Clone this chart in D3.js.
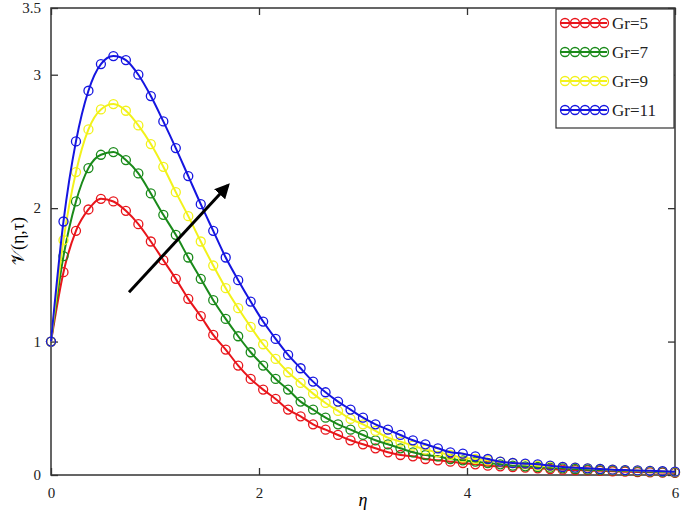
<!DOCTYPE html>
<html><head><meta charset="utf-8">
<script src="https://cdn.jsdelivr.net/npm/d3@7"></script>
<style>body{margin:0;background:#fff}svg text{font-family:"Liberation Serif","DejaVu Serif",serif}</style>
</head><body><svg id="c" width="685" height="520"></svg>
<script>
const seriesNames=["Gr=5","Gr=7","Gr=9","Gr=11"];
const seriesColors=["#e8151b","#1a8a1a","#f2f21a","#1515e0"];
const gr5=[1.0,1.52,1.83,1.99,2.07,2.05,1.98,1.88,1.75,1.61,1.47,1.32,1.19,1.05,0.94,0.82,0.72,0.64,0.57,0.49,0.44,0.38,0.34,0.30,0.26,0.23,0.20,0.17,0.15,0.14,0.12,0.11,0.10,0.09,0.08,0.07,0.065,0.06,0.055,0.05,0.045,0.04,0.037,0.034,0.031,0.028,0.025,0.022,0.02,0.018,0.016];
const gr7=[1.0,1.64,2.05,2.30,2.40,2.42,2.36,2.26,2.11,1.95,1.80,1.63,1.47,1.31,1.17,1.04,0.92,0.82,0.72,0.64,0.55,0.49,0.43,0.38,0.34,0.30,0.26,0.23,0.20,0.17,0.15,0.14,0.12,0.11,0.10,0.09,0.08,0.07,0.065,0.06,0.055,0.05,0.045,0.04,0.037,0.034,0.031,0.028,0.025,0.022,0.02];
const gr9=[1.0,1.76,2.27,2.59,2.74,2.78,2.73,2.62,2.48,2.31,2.12,1.94,1.75,1.57,1.40,1.25,1.11,0.98,0.87,0.77,0.69,0.61,0.54,0.48,0.42,0.38,0.33,0.28,0.25,0.22,0.19,0.17,0.15,0.13,0.12,0.11,0.10,0.09,0.08,0.07,0.065,0.06,0.055,0.05,0.045,0.04,0.036,0.033,0.03,0.027,0.024];
const gr11=[1.0,1.90,2.50,2.88,3.08,3.14,3.11,3.00,2.84,2.65,2.45,2.24,2.03,1.83,1.63,1.46,1.30,1.15,1.02,0.90,0.80,0.70,0.62,0.55,0.49,0.43,0.38,0.34,0.30,0.26,0.23,0.20,0.17,0.16,0.14,0.12,0.10,0.09,0.085,0.08,0.07,0.06,0.055,0.05,0.045,0.04,0.037,0.034,0.031,0.028,0.025];
const etaStep=0.12;
const xTicks=[0,2,4,6];
const yTicks=[0,1,2,3,3.5];
const allSeries=[gr5,gr7,gr9,gr11];

const svg=d3.select("#c");
const x=d3.scaleLinear().domain([0,6]).range([51,675]);
const y=d3.scaleLinear().domain([0,3.5]).range([475,8]);
const g=svg.append("g");
// frame
g.append("rect").attr("x",51).attr("y",8).attr("width",624).attr("height",467).attr("fill","none").attr("stroke","#333").attr("stroke-width",1.5);
const fmt=d=>String(d);
g.append("g").attr("transform","translate(0,475)").call(d3.axisBottom(x).tickValues(xTicks).tickSize(-7).tickPadding(12).tickFormat(fmt));
g.append("g").attr("transform","translate(0,8)").call(d3.axisTop(x).tickValues(xTicks).tickSize(-7).tickFormat(""));
g.append("g").attr("transform","translate(51,0)").call(d3.axisLeft(y).tickValues(yTicks).tickSize(-7).tickPadding(10).tickFormat(fmt));
g.append("g").attr("transform","translate(675,0)").call(d3.axisRight(y).tickValues(yTicks).tickSize(-7).tickFormat(""));
g.selectAll(".domain").remove();
g.selectAll(".tick line").attr("stroke","#333").attr("stroke-width",1.3);
g.selectAll(".tick text").attr("font-size",15).attr("fill","#222").style("font-family","Liberation Serif, serif");

const line=d3.line().x((d,i)=>x(i*etaStep)).y(d=>y(d)).curve(d3.curveMonotoneX);
allSeries.forEach((s,k)=>{
  svg.append("path").datum(s).attr("d",line).attr("fill","none").attr("stroke",seriesColors[k]).attr("stroke-width",2);
  svg.append("g").selectAll("circle").data(s).join("circle").attr("cx",(d,i)=>x(i*etaStep)).attr("cy",d=>y(d)).attr("r",4.5).attr("fill","none").attr("stroke",seriesColors[k]).attr("stroke-width",1.3);
});
// arrow
svg.append("defs").append("marker").attr("id","ah").attr("viewBox","0 0 10 10").attr("refX",8).attr("refY",5).attr("markerWidth",5).attr("markerHeight",5).attr("orient","auto").append("path").attr("d","M0,0L10,5L0,10z").attr("fill","#000");
svg.append("line").attr("x1",x(0.75)).attr("y1",y(1.37)).attr("x2",x(1.7)).attr("y2",y(2.17)).attr("stroke","#000").attr("stroke-width",3).attr("marker-end","url(#ah)");
// legend
const lg=svg.append("g");
lg.append("rect").attr("x",556).attr("y",9).attr("width",118).attr("height",119).attr("fill","#fff").attr("stroke","#333").attr("stroke-width",1.2);
seriesNames.forEach((n,k)=>{
  const yy=23+k*29;
  lg.append("line").attr("x1",561).attr("x2",607).attr("y1",yy).attr("y2",yy).attr("stroke",seriesColors[k]).attr("stroke-width",2);
  [565,575,585,595,604].forEach(cx=>lg.append("circle").attr("cx",cx).attr("cy",yy).attr("r",4.5).attr("fill","none").attr("stroke",seriesColors[k]).attr("stroke-width",1.3));
  lg.append("text").attr("x",612).attr("y",yy+6).attr("font-size",17).attr("fill","#222").text(n);
});
// axis labels
svg.append("text").attr("x",x(3)).attr("y",506).attr("text-anchor","middle").attr("font-size",18).attr("font-style","italic").text("η");
svg.append("text").attr("transform","translate(24,241) rotate(-90)").attr("text-anchor","middle").attr("font-size",18).text("𝒱(η,τ)").selectAll("x");
</script></body></html>
